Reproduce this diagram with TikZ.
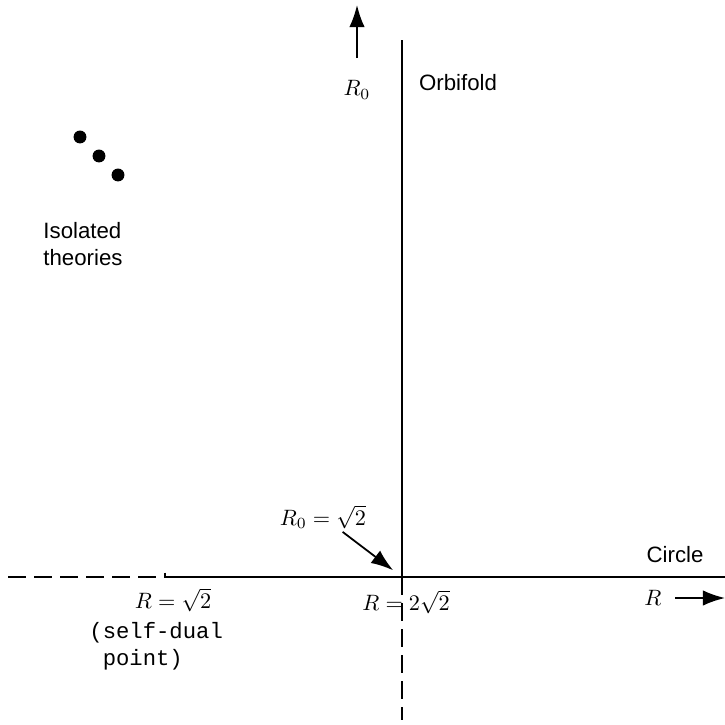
\documentclass[tikz,border=0pt]{standalone}
\usepackage{fontspec}
\setsansfont{Liberation Sans}
\setmonofont{Liberation Mono}
\usepackage{tikz}
\usetikzlibrary{arrows.meta}

\tikzset{
  axisline/.style={line width=0.9pt},
  axisdash/.style={line width=0.9pt, dash pattern=on 8pt off 3.7pt},
  pointer/.style={line width=0.8pt, -{Latex[length=10pt,width=7pt]}},
  label/.style={font=\sffamily, inner sep=0pt},
  mlabel/.style={inner sep=0pt},
  dot/.style={circle, fill=black, inner sep=0pt, minimum size=5.8pt}
}

\begin{document}
\begin{tikzpicture}[x=0.01581cm, y=-0.01581cm]
  \useasboundingbox (0,0) rectangle (725,725);
  % axes
  \coordinate (o) at (402,577);
  \coordinate (rend) at (725,577);
  \coordinate (r0end) at (402,40);
  \coordinate (dashleft) at (8,577);
  \coordinate (dashright) at (158,577);
  \coordinate (sd) at (165,577);
  \coordinate (sdtick) at (165,572.5);
  \coordinate (dashbottom) at (402,720);
  \draw[axisline] (sdtick) -- (sd) -- (rend);
  \draw[axisline] (o) -- (r0end);
  \draw[axisdash] (dashleft) -- (dashright);
  \draw[axisdash] (o) -- (dashbottom);

  % labels
  \node[mlabel] (r0lab) at (357,90) {$R_0$};
  \node[label] (orb) at (458,83) {Orbifold};
  \node[label] (circ) at (675,555) {Circle};
  \node[mlabel] (rlab) at (653,598) {$R$};
  \node[mlabel] (r0eq) at (323,517) {$R_0=\sqrt{2}$};
  \node[mlabel] (req) at (406,602) {$R=2\sqrt{2}$};
  \node[mlabel] (rsd) at (173,600) {$R=\sqrt{2}$};
  \node[font=\ttfamily, inner sep=0pt, anchor=north west, align=left] (sdtext) at (89,622) {(self-dual\\\ point)};
  \node[label, align=left] (iso) at (83,244) {Isolated\\theories};

  % isolated theories
  \node[dot] (d1) at (80,137) {};
  \node[dot] (d2) at (99,156) {};
  \node[dot] (d3) at (118,175) {};

  % pointers
  \coordinate (uptip) at (357,5);
  \coordinate (righttip) at (725,598);
  \draw[pointer, shorten <=10pt] (r0lab) -- (uptip);
  \draw[pointer, shorten <=6pt] (rlab) -- (righttip);
  \draw[pointer, shorten <=2pt, shorten >=5pt] (r0eq) -- (o);
\end{tikzpicture}
\end{document}
